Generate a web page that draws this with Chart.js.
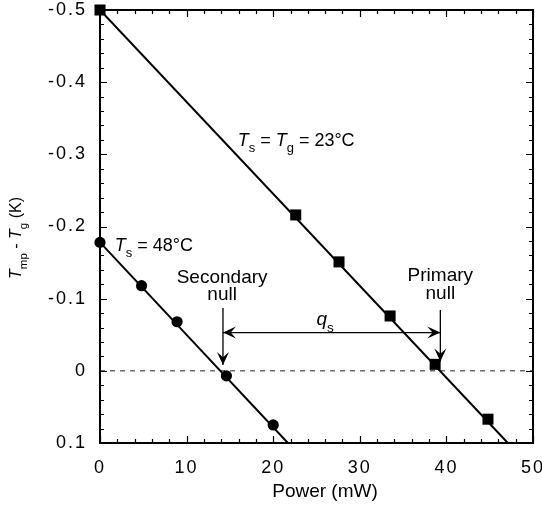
<!DOCTYPE html>
<html>
<head>
<meta charset="utf-8">
<script src="https://cdn.jsdelivr.net/npm/chart.js@4.4.0/dist/chart.umd.min.js"></script>
<style>
  body { margin: 0; background: #fff; }
  #wrap { width: 542px; height: 505px; }
</style>
</head>
<body>
<div id="wrap"><canvas id="nullChart" width="542" height="505"></canvas></div>
<script>
// data
const powerSq = [0, 22.6, 27.6, 33.5, 38.7, 44.8];
const tempSq = [-0.5, -0.216, -0.151, -0.076, -0.009, 0.067];
const powerCirc = [0, 4.8, 8.9, 14.6, 20.0];
const tempCirc = [-0.178, -0.118, -0.068, 0.007, 0.075];

// fitted lines (end points)
const fitSqX = [0, 47.1];
const fitSqY = [-0.5, 0.1];
const fitCircX = [0, 21.7];
const fitCircY = [-0.178, 0.1];

const xTicks = [0, 10, 20, 30, 40, 50];
const yTicks = [-0.5, -0.4, -0.3, -0.2, -0.1, 0, 0.1];
const yTickLabels = ['-0.5', '-0.4', '-0.3', '-0.2', '-0.1', '0', '0.1'];

// null positions and q_s arrow
const secondaryNull = 14.2;
const primaryNull = 39.3;

function pts(xs, ys) {
    return xs.map((x, i) => ({ x: x, y: ys[i] }));
}

const fontName = '"Liberation Sans", Arial, sans-serif';

// text with italic T and subscripts
function richText(ctx, x, y, parts, size) {
    let cx = x;
    parts.forEach(p => {
        let s = p.sub ? size * 0.72 : size;
        ctx.font = (p.it ? 'italic ' : '') + s + 'px ' + fontName;
        ctx.fillText(p.t, cx, y + (p.sub ? size * 0.35 : 0));
        cx += ctx.measureText(p.t).width + (p.gap || 0);
    });
    return cx - x;
}

function richWidth(ctx, parts, size) {
    let w = 0;
    parts.forEach(p => {
        let s = p.sub ? size * 0.72 : size;
        ctx.font = (p.it ? 'italic ' : '') + s + 'px ' + fontName;
        w += ctx.measureText(p.t).width + (p.gap || 0);
    });
    return w;
}

function arrowHead(ctx, x, y, dx, dy) {
    // barbed head pointing along (dx,dy)
    const len = 13, half = 6;
    const px = -dy, py = dx;
    ctx.beginPath();
    ctx.moveTo(x, y);
    ctx.lineTo(x - dx * len + px * half, y - dy * len + py * half);
    ctx.lineTo(x - dx * len * 0.6, y - dy * len * 0.6);
    ctx.lineTo(x - dx * len - px * half, y - dy * len - py * half);
    ctx.closePath();
    ctx.fill();
}

const extras = {
    id: 'extras',
    beforeInit(chart) {
        chart.ctx.letterSpacing = '2px';
    },
    beforeDraw(chart) {
        chart.ctx.letterSpacing = '2px';
    },
    beforeDatasetsDraw(chart) {
        const ctx = chart.ctx;
        const ys = chart.scales.y;
        const a = chart.chartArea;
        ctx.save();
        ctx.letterSpacing = '0px';
        // dashed zero line
        ctx.strokeStyle = '#222';
        ctx.lineWidth = 1;
        ctx.setLineDash([5, 5]);
        ctx.beginPath();
        ctx.moveTo(a.left, ys.getPixelForValue(0));
        ctx.lineTo(a.right, ys.getPixelForValue(0));
        ctx.stroke();
        ctx.setLineDash([]);
        ctx.restore();
    },
    afterDraw(chart) {
        const ctx = chart.ctx;
        const xs = chart.scales.x, ys = chart.scales.y;
        const a = chart.chartArea;
        ctx.save();
        ctx.letterSpacing = '0px';
        ctx.strokeStyle = '#000';
        ctx.fillStyle = '#000';

        // frame
        ctx.lineWidth = 2;
        ctx.strokeRect(a.left, a.top, a.right - a.left, a.bottom - a.top);

        // ticks on all four sides, pointing inward
        ctx.lineWidth = 1.2;
        ctx.beginPath();
        for (let i = 0; i <= 25; i++) {
            const v = i * 2;
            const px = Math.round(xs.getPixelForValue(v)) + 0.5;
            const l = (i % 5 === 0) ? 7 : 4;
            ctx.moveTo(px, a.bottom); ctx.lineTo(px, a.bottom - l);
            ctx.moveTo(px, a.top); ctx.lineTo(px, a.top + l);
        }
        for (let i = 0; i <= 30; i++) {
            const v = -0.5 + i * 0.02;
            const py = Math.round(ys.getPixelForValue(v)) + 0.5;
            const l = (i % 5 === 0) ? 7 : 4;
            ctx.moveTo(a.left, py); ctx.lineTo(a.left + l, py);
            ctx.moveTo(a.right, py); ctx.lineTo(a.right - l, py);
        }
        ctx.stroke();

        // arrows
        const sx = xs.getPixelForValue(secondaryNull);
        const px = xs.getPixelForValue(primaryNull);
        const hy = ys.getPixelForValue(-0.053);
        const topY = ys.getPixelForValue(-0.087);
        ctx.lineWidth = 1.3;
        ctx.beginPath();
        ctx.moveTo(sx, topY); ctx.lineTo(sx, ys.getPixelForValue(-0.008));
        ctx.moveTo(px, topY + 2); ctx.lineTo(px, ys.getPixelForValue(-0.013));
        ctx.moveTo(sx, hy); ctx.lineTo(px, hy);
        ctx.stroke();
        arrowHead(ctx, sx, ys.getPixelForValue(-0.008), 0, 1);
        arrowHead(ctx, px, ys.getPixelForValue(-0.013), 0, 1);
        arrowHead(ctx, sx, hy, -1, 0);
        arrowHead(ctx, px, hy, 1, 0);

        // labels
        ctx.textBaseline = 'alphabetic';
        ctx.textAlign = 'center';
        ctx.font = '19px ' + fontName;
        ctx.fillText('Secondary', xs.getPixelForValue(14.1), ys.getPixelForValue(-0.122));
        ctx.fillText('null', xs.getPixelForValue(14.1), ys.getPixelForValue(-0.098));
        ctx.fillText('Primary', xs.getPixelForValue(39.3), ys.getPixelForValue(-0.124));
        ctx.fillText('null', xs.getPixelForValue(39.3), ys.getPixelForValue(-0.1));
        ctx.textAlign = 'left';
        richText(ctx, xs.getPixelForValue(15.9), ys.getPixelForValue(-0.312), [
            { t: 'T', it: true }, { t: 's', sub: true },
            { t: ' = ' }, { t: 'T', it: true }, { t: 'g', sub: true },
            { t: ' = 23°C' }
        ], 18);
        richText(ctx, xs.getPixelForValue(1.7), ys.getPixelForValue(-0.166), [
            { t: 'T', it: true }, { t: 's', sub: true }, { t: ' = 48°C' }
        ], 18);
        richText(ctx, xs.getPixelForValue(25.0), ys.getPixelForValue(-0.063), [
            { t: 'q', it: true }, { t: 's', sub: true }
        ], 19);

        // x title
        ctx.textAlign = 'center';
        ctx.font = '19px ' + fontName;
        ctx.fillText('Power (mW)', 325, 497);

        // y title, rotated
        const yParts = [
            { t: 'T', it: true }, { t: 'mp', sub: true }, { t: ' - ' },
            { t: 'T', it: true }, { t: 'g', sub: true }, { t: ' (K)' }
        ];
        ctx.translate(21, 238);
        ctx.rotate(-Math.PI / 2);
        ctx.textAlign = 'left';
        const w = richWidth(ctx, yParts, 16);
        richText(ctx, -w / 2, 0, yParts, 16);
        ctx.restore();
    }
};

const ctx = document.getElementById('nullChart').getContext('2d');

new Chart(ctx, {
    type: 'scatter',
    data: {
        datasets: [
            {
                data: pts(fitSqX, fitSqY), showLine: true, pointRadius: 0,
                borderColor: '#000', borderWidth: 1.9
            },
            {
                data: pts(fitCircX, fitCircY), showLine: true, pointRadius: 0,
                borderColor: '#000', borderWidth: 1.9
            },
            {
                data: pts(powerSq, tempSq), pointStyle: 'rect', pointRadius: 7.8,
                backgroundColor: '#000', borderColor: '#000', borderWidth: 0
            },
            {
                data: pts(powerCirc, tempCirc), pointStyle: 'circle', pointRadius: 5.6,
                backgroundColor: '#000', borderColor: '#000', borderWidth: 0
            }
        ]
    },
    options: {
        responsive: false,
        animation: false,
        clip: false,
        layout: { padding: { top: 10, right: 9, left: 0, bottom: 0 } },
        plugins: {
            legend: { display: false },
            tooltip: { enabled: false }
        },
        scales: {
            x: {
                type: 'linear', min: 0, max: 50,
                afterBuildTicks: s => { s.ticks = xTicks.map(v => ({ value: v })); },
                afterFit: s => { s.height = 62; s.paddingLeft = 0; s.paddingRight = 0; },
                grid: { display: false, drawTicks: false },
                border: { display: false },
                ticks: {
                    padding: 14, color: '#000',
                    font: { size: 18, family: fontName }
                }
            },
            y: {
                type: 'linear', min: -0.5, max: 0.1, reverse: true,
                afterBuildTicks: s => { s.ticks = yTicks.map(v => ({ value: v })); },
                afterFit: s => { s.width = 100; s.paddingTop = 0; s.paddingBottom = 0; },
                grid: { display: false, drawTicks: false },
                border: { display: false },
                ticks: {
                    padding: 13, color: '#000',
                    font: { size: 18, family: fontName },
                    callback: (v, i) => yTickLabels[i]
                }
            }
        }
    },
    plugins: [extras]
});
</script>
</body>
</html>
